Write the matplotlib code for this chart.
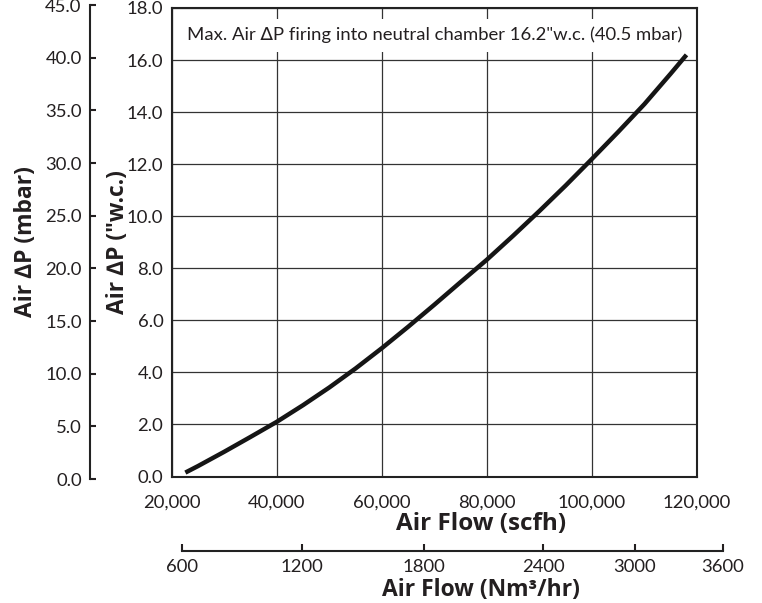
import numpy as np
import matplotlib.pyplot as plt

plt.rcParams['font.family'] = ['Lato', 'DejaVu Sans']

# air flow (scfh) vs air pressure drop ("w.c.)
flow_scfh = [22600, 25000, 30000, 35000, 40000, 45000, 50000, 55000, 60000,
             65000, 70000, 75000, 80000, 85000, 90000, 95000, 100000,
             105000, 110000, 115000, 118000]
dp_wc = [0.15, 0.40, 0.95, 1.52, 2.10, 2.74, 3.42, 4.15, 4.93,
         5.75, 6.60, 7.47, 8.33, 9.25, 10.20, 11.18, 12.20,
         13.24, 14.31, 15.48, 16.20]

scfh_ticks = [20000, 40000, 60000, 80000, 100000, 120000]
wc_ticks = [0, 2, 4, 6, 8, 10, 12, 14, 16, 18]
mbar_ticks = [0, 5, 10, 15, 20, 25, 30, 35, 40, 45]
# Nm3/hr scale labels and where they sit on the scfh scale in the chart
nm3_ticks = [600, 1200, 1800, 2400, 3000, 3600]
nm3_at_scfh = [21900, 44800, 68100, 90700, 108200, 124950]

note = 'Max. Air \u2206P firing into neutral chamber 16.2"w.c. (40.5 mbar)'

ink = '#231f20'
W, H = 762, 603
fig = plt.figure(figsize=(W / 100, H / 100), dpi=100)

# main chart
x0, x1, ytop, ybot = 171.7, 697.0, 8.0, 476.5
ax = fig.add_axes([x0 / W, 1 - ybot / H, (x1 - x0) / W, (ybot - ytop) / H])
ax.plot(flow_scfh, dp_wc, color='#151515', lw=3.2, solid_capstyle='butt', zorder=4)
ax.set_xlim(20000, 120000)
ax.set_ylim(0, 18)
ax.set_xticks(scfh_ticks)
ax.set_xticklabels([f'{v:,}' for v in scfh_ticks])
ax.set_yticks(wc_ticks)
ax.set_yticklabels([f'{v:.1f}' for v in wc_ticks])
ax.tick_params(length=0, labelsize=13.3, colors=ink)
ax.tick_params(axis='x', pad=13)
ax.tick_params(axis='y', pad=6)
ax.grid(color='#333333', lw=0.9)
for s in ax.spines.values():
    s.set_linewidth(1.5)
    s.set_color('#222222')
ax.text(0.5, 0.942, note, transform=ax.transAxes, ha='center', va='center',
        fontsize=13.3, color=ink, zorder=3,
        bbox=dict(facecolor='white', edgecolor='none', pad=6))

# mbar scale on the left
mx, mtop, mbot = 90.0, 5.0, 479.0
ax2 = fig.add_axes([mx / W, 1 - mbot / H, 0.0001, (mbot - mtop) / H])
ax2.set_ylim(0, 45)
ax2.set_yticks(mbar_ticks)
ax2.set_yticklabels([f'{v:.1f}' for v in mbar_ticks])
ax2.set_xticks([])
for k in ['top', 'right', 'bottom']:
    ax2.spines[k].set_visible(False)
ax2.spines['left'].set_linewidth(1.5)
ax2.spines['left'].set_color('#222222')
ax2.patch.set_visible(False)
ax2.tick_params(axis='y', direction='in', length=4, width=1.5, labelsize=13.3,
                colors=ink, pad=6)

# Nm3/hr scale at the bottom
by = 550.7
xr = x0 + (nm3_at_scfh[-1] - 20000) / 100000 * (x1 - x0)
ax3 = fig.add_axes([x0 / W, 1 - by / H, (xr - x0) / W, 0.0001])
ax3.set_xlim(20000, nm3_at_scfh[-1])
ax3.set_xticks(nm3_at_scfh)
ax3.set_xticklabels([str(v) for v in nm3_ticks])
ax3.set_yticks([])
for k in ['top', 'right', 'left']:
    ax3.spines[k].set_visible(False)
ax3.spines['bottom'].set_bounds(nm3_at_scfh[0], nm3_at_scfh[-1])
ax3.spines['bottom'].set_linewidth(1.5)
ax3.spines['bottom'].set_color('#222222')
ax3.patch.set_visible(False)
ax3.tick_params(axis='x', direction='in', length=5, width=1.5, labelsize=13.3,
                colors=ink, pad=6)

# axis titles
bold = dict(fontweight='bold', color=ink, family=['Open Sans', 'DejaVu Sans'])
fig.text(26 / W, 1 - 242 / H, 'Air \u2206P (mbar)', rotation=90, ha='center',
         va='center', fontsize=16.5, **bold)
fig.text(118 / W, 1 - 242 / H, 'Air \u2206P ("w.c.)', rotation=90, ha='center',
         va='center', fontsize=16.5, **bold)
fig.text(481 / W, 1 - 524 / H, 'Air Flow (scfh)', ha='center', va='center',
         fontsize=17.5, **bold)
fig.text(481 / W, 1 - 590 / H, 'Air Flow (Nm\u00b3/hr)', ha='center', va='center',
         fontsize=16.5, **bold)

fig.savefig('out.png', dpi=100)
